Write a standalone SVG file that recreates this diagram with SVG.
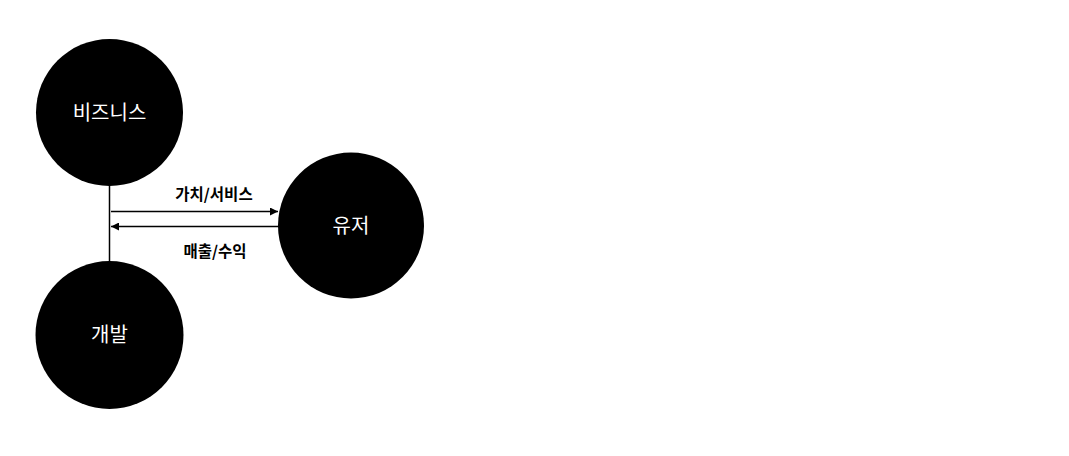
<svg xmlns="http://www.w3.org/2000/svg" width="1069" height="456" viewBox="0 0 1069 456">
<style>
.node circle{fill:#000}
.node text{fill:#fff;font-family:"Noto Sans CJK KR","Noto Sans",sans-serif;font-size:20px;font-weight:normal;text-anchor:middle;dominant-baseline:central}
.lbl{fill:#000;font-family:"Noto Sans CJK KR","Noto Sans",sans-serif;font-size:15.5px;font-weight:bold;text-anchor:middle}
.conn line{stroke:#000;stroke-width:1.5}
</style>
<defs>
<marker id="ah" viewBox="0 0 10 10" refX="10" refY="5" markerWidth="8" markerHeight="8" markerUnits="userSpaceOnUse" orient="auto"><path d="M0,0 L10,5 L0,10 z" fill="#000"/></marker>
</defs>
<rect width="1069" height="456" fill="#fff"/>
<g id="connectors" class="conn">
<line x1="109.5" y1="184" x2="109.5" y2="263"/>
<line x1="111" y1="211.5" x2="278" y2="211.5" marker-end="url(#ah)"/>
<line x1="279" y1="226.5" x2="111" y2="226.5" marker-end="url(#ah)"/>
<text class="lbl" x="214" y="200">가치/서비스</text>
<text class="lbl" x="215" y="257">매출/수익</text>
</g>
<g id="business" class="node"><circle cx="109.5" cy="112.5" r="73.5"/><text x="109.5" y="111">비즈니스</text></g>
<g id="dev" class="node"><circle cx="109.5" cy="335" r="74"/><text x="109.5" y="333">개발</text></g>
<g id="user" class="node"><circle cx="351" cy="225.5" r="73"/><text x="351" y="224">유저</text></g>
</svg>
